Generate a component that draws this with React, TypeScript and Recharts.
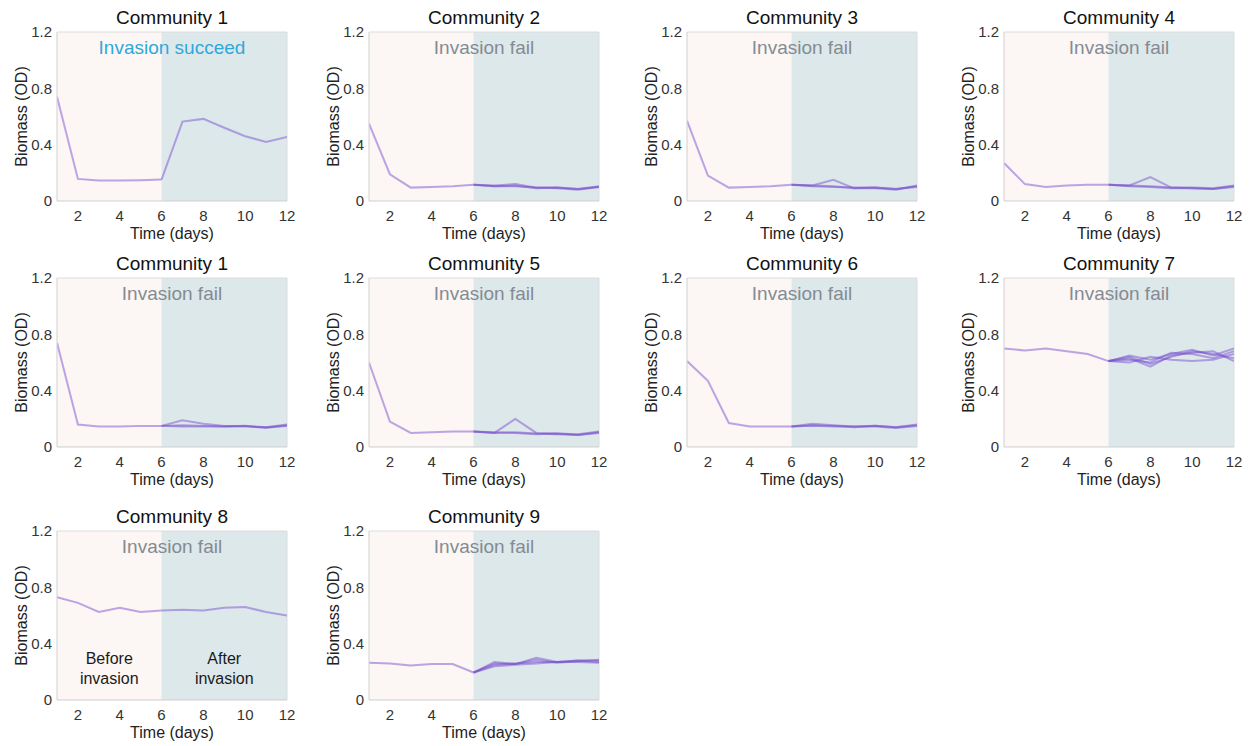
import React from "react";
import {
  LineChart,
  Line,
  XAxis,
  YAxis,
  ReferenceArea,
  ReferenceLine,
} from "recharts";

// days 1..12; "before" covers days 1-6, each replicate covers days 6-12
const days = [1, 2, 3, 4, 5, 6, 7, 8, 9, 10, 11, 12];
const xTicks = [2, 4, 6, 8, 10, 12];
const yTicks = [0, 0.4, 0.8, 1.2];

const c1sBefore = [0.74, 0.157, 0.145, 0.145, 0.148, 0.152];
const c1sAfter = [[0.152, 0.564, 0.583, 0.52, 0.46, 0.42, 0.455]];

const c2Before = [0.55, 0.19, 0.095, 0.1, 0.105, 0.115];
const c2After = [
  [0.115, 0.11, 0.12, 0.095, 0.095, 0.085, 0.1],
  [0.115, 0.105, 0.11, 0.09, 0.095, 0.085, 0.105],
  [0.115, 0.105, 0.105, 0.095, 0.09, 0.08, 0.1],
];

const c3Before = [0.57, 0.18, 0.095, 0.1, 0.105, 0.115];
const c3After = [
  [0.115, 0.11, 0.15, 0.09, 0.095, 0.085, 0.105],
  [0.115, 0.105, 0.1, 0.095, 0.095, 0.085, 0.1],
  [0.115, 0.11, 0.105, 0.09, 0.09, 0.08, 0.11],
];

const c4Before = [0.27, 0.12, 0.1, 0.11, 0.115, 0.115];
const c4After = [
  [0.115, 0.11, 0.17, 0.095, 0.095, 0.09, 0.11],
  [0.115, 0.105, 0.1, 0.09, 0.09, 0.085, 0.105],
  [0.115, 0.11, 0.105, 0.095, 0.09, 0.085, 0.1],
];

const c1fBefore = [0.74, 0.16, 0.145, 0.145, 0.15, 0.15];
const c1fAfter = [
  [0.15, 0.19, 0.165, 0.15, 0.15, 0.14, 0.16],
  [0.15, 0.145, 0.145, 0.145, 0.145, 0.14, 0.15],
  [0.15, 0.155, 0.15, 0.145, 0.15, 0.135, 0.155],
];

const c5Before = [0.6, 0.18, 0.1, 0.105, 0.11, 0.11];
const c5After = [
  [0.11, 0.1, 0.2, 0.1, 0.095, 0.09, 0.11],
  [0.11, 0.105, 0.105, 0.095, 0.09, 0.085, 0.1],
  [0.11, 0.1, 0.1, 0.09, 0.095, 0.085, 0.105],
];

const c6Before = [0.61, 0.47, 0.17, 0.145, 0.145, 0.145];
const c6After = [
  [0.145, 0.165, 0.155, 0.145, 0.15, 0.14, 0.155],
  [0.145, 0.15, 0.145, 0.145, 0.145, 0.135, 0.15],
  [0.145, 0.155, 0.15, 0.14, 0.15, 0.14, 0.16],
];

const c7Before = [0.7, 0.685, 0.7, 0.68, 0.66, 0.61];
const c7After = [
  [0.61, 0.65, 0.62, 0.66, 0.69, 0.65, 0.7],
  [0.61, 0.63, 0.57, 0.65, 0.67, 0.68, 0.61],
  [0.61, 0.6, 0.64, 0.62, 0.61, 0.62, 0.66],
  [0.61, 0.62, 0.6, 0.67, 0.66, 0.63, 0.68],
  [0.61, 0.64, 0.59, 0.64, 0.68, 0.66, 0.63],
];

const c8Before = [0.73, 0.69, 0.625, 0.655, 0.625, 0.635];
const c8After = [[0.635, 0.64, 0.635, 0.655, 0.66, 0.625, 0.6]];

const c9Before = [0.265, 0.26, 0.245, 0.255, 0.255, 0.195];
const c9After = [
  [0.195, 0.27, 0.255, 0.3, 0.27, 0.28, 0.28],
  [0.195, 0.25, 0.26, 0.27, 0.27, 0.28, 0.27],
  [0.195, 0.24, 0.25, 0.26, 0.27, 0.27, 0.265],
  [0.195, 0.26, 0.255, 0.285, 0.265, 0.275, 0.285],
];

const titles = [
  "Community 1", "Community 2", "Community 3", "Community 4",
  "Community 1", "Community 5", "Community 6", "Community 7",
  "Community 8", "Community 9",
];
const notes = [
  "Invasion succeed", "Invasion fail", "Invasion fail", "Invasion fail",
  "Invasion fail", "Invasion fail", "Invasion fail", "Invasion fail",
  "Invasion fail", "Invasion fail",
];
const befores = [c1sBefore, c2Before, c3Before, c4Before, c1fBefore, c5Before, c6Before, c7Before, c8Before, c9Before];
const afters = [c1sAfter, c2After, c3After, c4After, c1fAfter, c5After, c6After, c7After, c8After, c9After];

const plotLefts = [57, 369, 687, 1004];
const plotTops = [32, 278, 531];
const PW = 230;
const PH = 169;
const AXIS_W = 57;
const AXIS_H = 42;

const FONT = '"Liberation Sans", Arial, Helvetica, sans-serif';
const LINE = "#7b52cf";

function buildRows(before: number[], after: number[][]) {
  return days.map((d, i) => {
    const row: Record<string, number> = { day: d };
    if (i < 6) row.before = before[i];
    if (i >= 5) after.forEach((r, k) => (row["r" + k] = r[i - 5]));
    return row;
  });
}

const PhaseLabel = (text: string[]) => (props: any) => {
  const vb = props.viewBox;
  if (!vb) return null;
  const cx = vb.x + vb.width / 2;
  return (
    <text x={cx} y={vb.y + 133} textAnchor="middle" fontSize={16} fill="#1a1a1a" fontFamily={FONT}>
      <tspan x={cx} dy={0}>{text[0]}</tspan>
      <tspan x={cx} dy={20}>{text[1]}</tspan>
    </text>
  );
};

function Panel({ idx }: { idx: number }) {
  const col = idx % 4;
  const row = Math.floor(idx / 4);
  const left = plotLefts[col] - AXIS_W;
  const top = plotTops[row] - 32;
  const data = buildRows(befores[idx], afters[idx]);
  const success = idx === 0;
  const phaseLabels = idx === 8;
  const tickStyle = { fontSize: 15, fill: "#333", fontFamily: FONT };

  return (
    <div style={{ position: "absolute", left, top, width: AXIS_W + PW + 13, height: 32 + PH + AXIS_H }}>
      <div
        style={{
          position: "absolute",
          left: AXIS_W,
          width: PW,
          top: 8,
          lineHeight: "20px",
          textAlign: "center",
          fontSize: 19,
          fontFamily: FONT,
          color: "#111",
        }}
      >
        {titles[idx]}
      </div>
      <LineChart
        width={AXIS_W + PW + 13}
        height={32 + PH + AXIS_H}
        data={data}
        margin={{ top: 32, right: 13, bottom: 0, left: 0 }}
      >
        <XAxis
          dataKey="day"
          type="number"
          domain={[1, 12]}
          ticks={xTicks}
          allowDataOverflow
          height={AXIS_H}
          tick={tickStyle}
          tickLine={false}
          tickSize={3}
          tickMargin={6}
          axisLine={{ stroke: "#cfcfcf" }}
          label={{ value: "Time (days)", position: "insideBottom", offset: 4, fontSize: 16, fill: "#222", fontFamily: FONT }}
        />
        <YAxis
          type="number"
          domain={[0, 1.2]}
          ticks={yTicks}
          allowDataOverflow
          width={AXIS_W}
          tick={tickStyle}
          tickLine={false}
          tickSize={3}
          tickMargin={2}
          axisLine={{ stroke: "#cfcfcf" }}
          label={{
            value: "Biomass (OD)",
            angle: -90,
            position: "insideLeft",
            offset: 21,
            fontSize: 16,
            fill: "#222",
            fontFamily: FONT,
            style: { textAnchor: "middle" },
          }}
        />
        <ReferenceArea
          x1={1}
          x2={6}
          y1={0}
          y2={1.2}
          fill="#fcf6f5"
          fillOpacity={1}
          stroke="none"
          label={phaseLabels ? PhaseLabel(["Before", "invasion"]) : undefined}
        />
        <ReferenceArea
          x1={6}
          x2={12}
          y1={0}
          y2={1.2}
          fill="#dde8eb"
          fillOpacity={1}
          stroke="none"
          label={phaseLabels ? PhaseLabel(["After", "invasion"]) : undefined}
        />
        <ReferenceLine y={1.2} stroke="#dcdcdc" />
        <ReferenceLine x={12} stroke="#dcdcdc" />
        <ReferenceLine
          y={1.095}
          stroke="none"
          label={{
            value: notes[idx],
            position: "center",
            fontSize: 19,
            fill: success ? "#2ea8dc" : "#858b92",
            fontFamily: FONT,
          }}
        />
        <Line
          dataKey="before"
          type="linear"
          stroke={LINE}
          strokeOpacity={0.5}
          strokeWidth={2}
          dot={false}
          isAnimationActive={false}
        />
        {afters[idx].map((_, k) => (
          <Line
            key={k}
            dataKey={"r" + k}
            type="linear"
            stroke={LINE}
            strokeOpacity={0.5}
            strokeWidth={2}
            dot={false}
            isAnimationActive={false}
          />
        ))}
      </LineChart>
    </div>
  );
}

export default function App() {
  return (
    <div style={{ position: "absolute", left: 0, top: 0, width: 1252, height: 746, background: "#fff" }}>
      {titles.map((_, i) => (
        <Panel key={i} idx={i} />
      ))}
    </div>
  );
}
